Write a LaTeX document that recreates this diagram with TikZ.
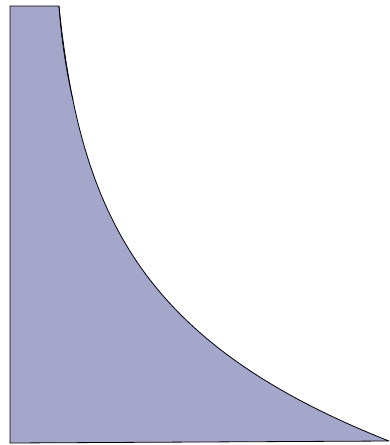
\documentclass[tikz,border=0pt]{standalone}
\definecolor{areafill}{RGB}{165,167,202}
\begin{document}
\begin{tikzpicture}[x=1pt,y=-1pt,
  region/.style={fill=areafill,draw=black,line width=0.8pt,line join=round},
  trace/.style={draw=black,line width=0.7pt}]
\useasboundingbox (0,0) rectangle (389,445);
\coordinate (tl) at (10,6);
\coordinate (tr) at (59,6);
\coordinate (br) at (389,441);
\coordinate (bl) at (10,443);
\coordinate (mid) at (73,100);
\draw[region] (bl) -- (tl) -- (tr)
  -- plot[domain=59:389,samples=250,smooth] (\x,{441-135.8*ln(344/(\x-45))})
  -- (bl) -- cycle;
\draw[trace] (tr) .. controls (61,40) and (68,80) .. (mid);
\end{tikzpicture}
\end{document}
